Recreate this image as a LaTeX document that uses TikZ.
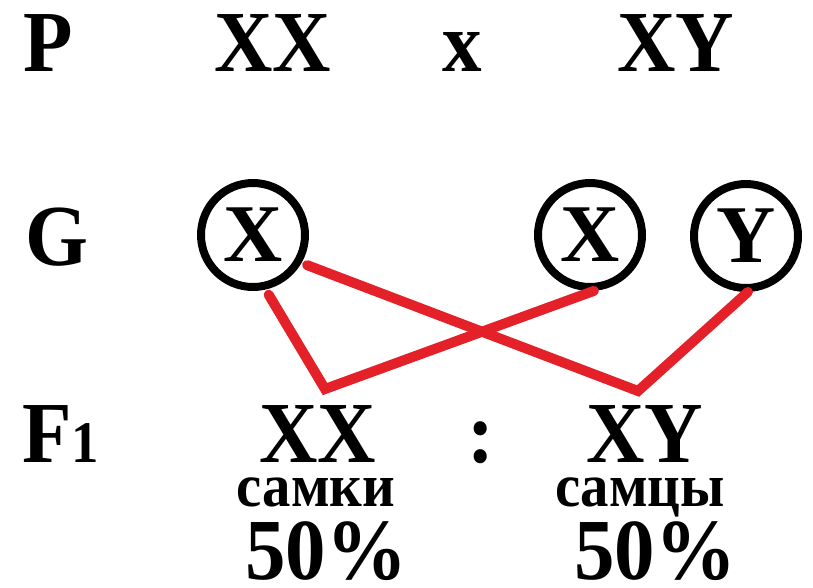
\documentclass[tikz,border=0pt]{standalone}
\usepackage{fontspec}
\setmainfont{Liberation Serif}[FakeStretch=0.93]
\newfontfamily\gametefont{Liberation Serif}
\definecolor{crossred}{RGB}{228,32,40}

\begin{document}
\begin{tikzpicture}[x=1pt,y=-1pt,
    big/.style={inner sep=0pt, anchor=base, font=\fontsize{87}{87}\selectfont\bfseries},
    small/.style={inner sep=0pt, anchor=base, font=\fontsize{61}{61}\selectfont\bfseries},
    gamete/.style={circle, draw, line width=8pt, minimum size=104pt, inner sep=0pt,
        font=\gametefont\fontsize{82}{82}\selectfont\bfseries},
    cross/.style={crossred, line width=10pt, line cap=round}]

    \useasboundingbox (0,0) rectangle (813,587);

    % parents
    \node[big, anchor=base west] (p) at (23,71) {P};
    \node[big] (mother) at (273,71) {XX};
    \node[big, font=\fontsize{85}{85}\selectfont\bfseries] (times) at (462,71) {x};
    \node[big] (father) at (676,71) {XY};

    % gametes
    \node[big, anchor=base west] (g) at (25,265) {G};
    \node[gamete] (gamA) at (253,235) {X};
    \node[gamete] (gamB) at (590,235) {X};
    \node[gamete] (gamC) at (746,236) {Y};

    % offspring
    \node[big, anchor=base west] (f) at (22,462) {F\fontsize{59}{59}\selectfont 1};
    \node[big] (girls) at (318,462) {XX};
    \node[big] (ratio) at (481,462) {:};
    \node[big] (boys) at (645,462) {XY};

    \node[small] (girlsname) at (316,506) {самки};
    \node[small] (boysname) at (640,506) {самцы};
    \node[big] (girlspc) at (326,579) {50\%};
    \node[big] (boyspc) at (655,579) {50\%};

    \coordinate (kinkA) at (325,389);
    \coordinate (kinkB) at (638,391);

    \draw[cross, shorten <=6pt] (gamA.283) -- (kinkA) -- (gamB.274);
    \draw[cross, shorten <=6pt] (gamA.330) -- (kinkB) -- (gamC.272);

\end{tikzpicture}
\end{document}
